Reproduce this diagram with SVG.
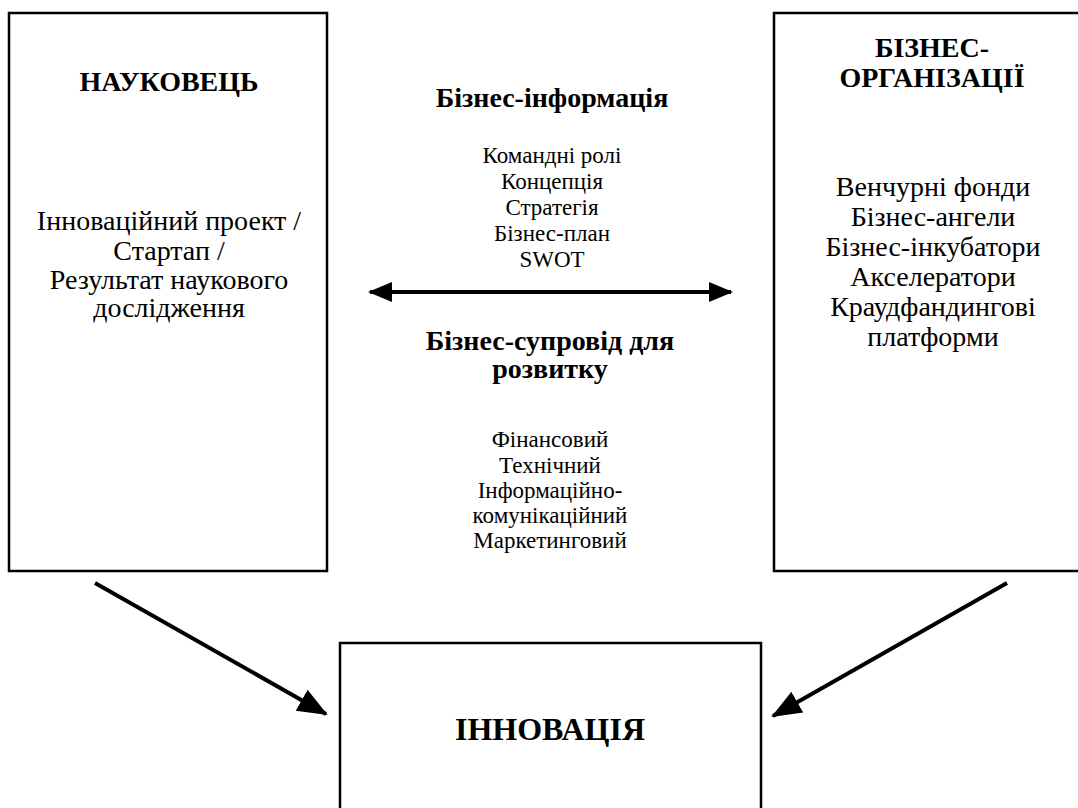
<svg xmlns="http://www.w3.org/2000/svg" width="1078" height="808" viewBox="0 0 1078 808">
  <style>
    .box { fill: #ffffff; stroke: #000000; stroke-width: 2.5; }
    .t { font-family: "Liberation Serif", "Times New Roman", serif; fill: #000000; text-anchor: middle; }
    .b { font-weight: bold; }
    .big { font-size: 28px; }
    .mid { font-size: 23px; }
    .conn { stroke: #000000; stroke-width: 4; fill: none; }
  </style>
  <defs>
    <marker id="ah" markerUnits="userSpaceOnUse" markerWidth="26" markerHeight="22" refX="22" refY="10" orient="auto-start-reverse" viewBox="0 0 26 20">
      <path d="M0,0 L24,10 L0,20 Z" fill="#000000"/>
    </marker>
    <marker id="ah2" markerUnits="userSpaceOnUse" markerWidth="32" markerHeight="26" refX="28" refY="12" orient="auto" viewBox="0 0 32 24">
      <path d="M0,0 L30,12 L0,24 Z" fill="#000000"/>
    </marker>
  </defs>
  <rect width="1078" height="808" fill="#ffffff"/>

  <g id="node-naukovets">
    <rect class="box" x="9" y="13" width="318" height="558"/>
    <text class="t b big" x="169" y="91">НАУКОВЕЦЬ</text>
    <text class="t big" x="169" y="230">Інноваційний проект /</text>
    <text class="t big" x="169" y="260">Стартап /</text>
    <text class="t big" x="169" y="289">Результат наукового</text>
    <text class="t big" x="169" y="317">дослідження</text>
  </g>

  <g id="node-biznes-org">
    <rect class="box" x="774" y="13" width="320" height="558"/>
    <text class="t b big" x="932" y="57">БІЗНЕС-</text>
    <text class="t b big" x="932" y="87">ОРГАНІЗАЦІЇ</text>
    <text class="t big" x="933" y="196">Венчурні фонди</text>
    <text class="t big" x="933" y="226">Бізнес-ангели</text>
    <text class="t big" x="933" y="256">Бізнес-інкубатори</text>
    <text class="t big" x="933" y="286">Акселератори</text>
    <text class="t big" x="933" y="316">Краудфандингові</text>
    <text class="t big" x="933" y="346">платформи</text>
  </g>

  <g id="node-innovatsiia">
    <rect class="box" x="340" y="643" width="421" height="180"/>
    <text class="t b" x="550" y="740" font-size="32">ІННОВАЦІЯ</text>
  </g>

  <g id="labels-middle">
    <text class="t b big" x="552" y="107">Бізнес-інформація</text>
    <text class="t mid" x="552" y="163">Командні ролі</text>
    <text class="t mid" x="552" y="189">Концепція</text>
    <text class="t mid" x="552" y="215">Стратегія</text>
    <text class="t mid" x="552" y="241">Бізнес-план</text>
    <text class="t mid" x="552" y="267">SWOT</text>
    <text class="t b big" x="550" y="350">Бізнес-супровід для</text>
    <text class="t b big" x="550" y="378">розвитку</text>
    <text class="t mid" x="550" y="447">Фінансовий</text>
    <text class="t mid" x="550" y="473">Технічний</text>
    <text class="t mid" x="550" y="498">Інформаційно-</text>
    <text class="t mid" x="550" y="523">комунікаційний</text>
    <text class="t mid" x="550" y="548">Маркетинговий</text>
  </g>

  <g id="connectors">
    <line class="conn" x1="370" y1="292" x2="731" y2="292" marker-start="url(#ah)" marker-end="url(#ah)"/>
    <line class="conn" x1="95" y1="583" x2="326" y2="714" marker-end="url(#ah2)"/>
    <line class="conn" x1="1007" y1="583" x2="773" y2="716" marker-end="url(#ah2)"/>
  </g>
</svg>
